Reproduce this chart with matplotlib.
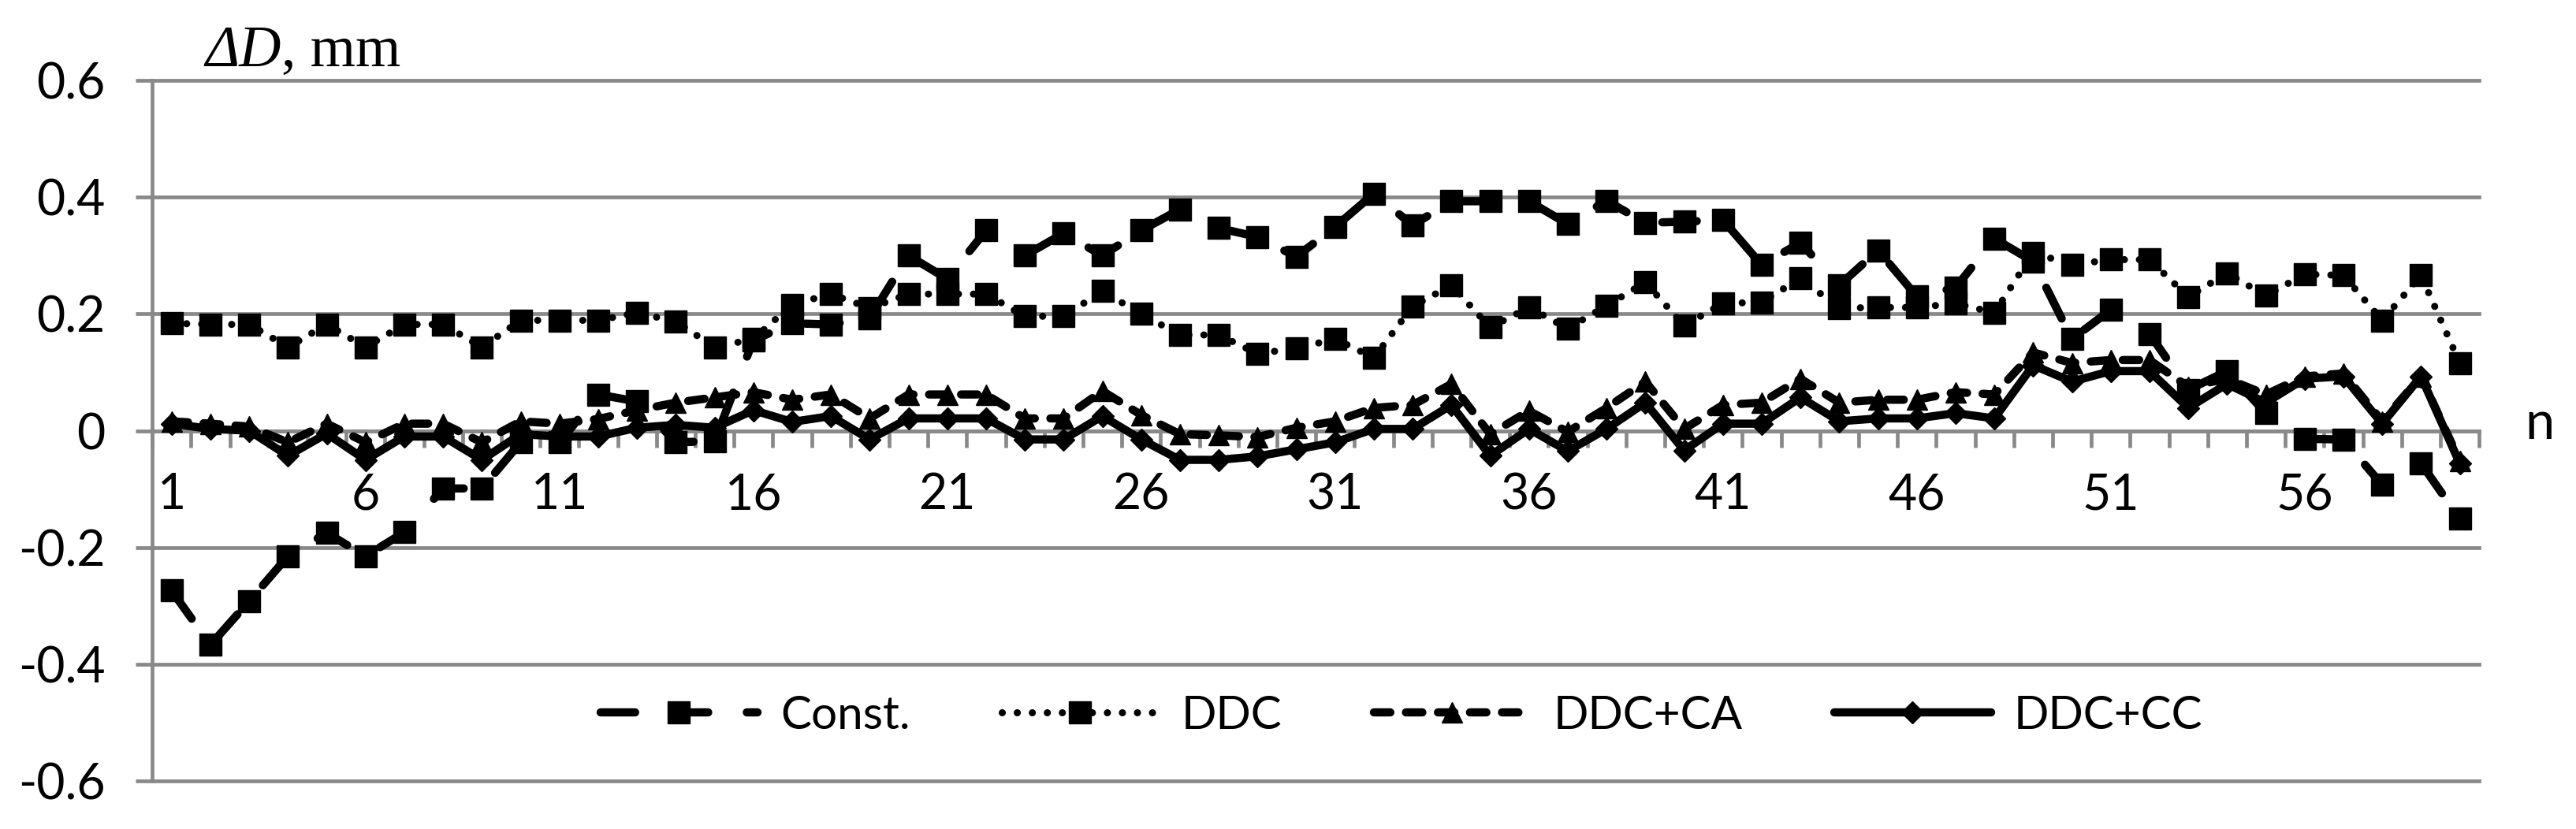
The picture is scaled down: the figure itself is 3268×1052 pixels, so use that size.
import numpy as np
import matplotlib
matplotlib.use('Agg')
import matplotlib.pyplot as plt
import matplotlib.transforms as mtransforms

# measurement number n = 1..60
n = np.arange(1, 61)

const = [-0.274, -0.367, -0.292, -0.215, -0.175, -0.215, -0.174, -0.099, -0.099, -0.020,
         -0.020, 0.062, 0.050, -0.020, -0.018, 0.155, 0.184, 0.182, 0.193, 0.300,
         0.260, 0.343, 0.300, 0.338, 0.300, 0.343, 0.379, 0.347, 0.332, 0.298,
         0.349, 0.406, 0.352, 0.393, 0.393, 0.393, 0.354, 0.394, 0.356, 0.358,
         0.361, 0.284, 0.322, 0.249, 0.309, 0.230, 0.245, 0.329, 0.290, 0.157,
         0.207, 0.166, 0.070, 0.102, 0.030, -0.014, -0.015, -0.093, -0.056, -0.151]

ddc = [0.184, 0.182, 0.182, 0.143, 0.182, 0.143, 0.182, 0.182, 0.143, 0.189,
       0.189, 0.189, 0.202, 0.187, 0.143, 0.157, 0.216, 0.234, 0.210, 0.234,
       0.234, 0.234, 0.196, 0.196, 0.239, 0.200, 0.164, 0.164, 0.132, 0.141,
       0.157, 0.125, 0.213, 0.249, 0.177, 0.211, 0.175, 0.214, 0.254, 0.180,
       0.218, 0.220, 0.261, 0.210, 0.211, 0.211, 0.218, 0.202, 0.305, 0.284,
       0.293, 0.293, 0.229, 0.270, 0.231, 0.268, 0.266, 0.189, 0.266, 0.116]

ddc_ca = [0.016, 0.012, 0.007, -0.020, 0.012, -0.020, 0.012, 0.012, -0.020, 0.016,
          0.012, 0.020, 0.035, 0.048, 0.057, 0.066, 0.053, 0.062, 0.021, 0.062,
          0.062, 0.062, 0.021, 0.021, 0.068, 0.027, -0.006, -0.008, -0.011, 0.005,
          0.016, 0.039, 0.044, 0.080, -0.006, 0.034, -0.002, 0.039, 0.084, 0.003,
          0.044, 0.048, 0.089, 0.048, 0.053, 0.053, 0.066, 0.062, 0.134, 0.116,
          0.121, 0.121, 0.075, 0.089, 0.062, 0.093, 0.098, 0.016, 0.093, -0.052]

ddc_cc = [0.012, 0.003, 0.000, -0.043, -0.005, -0.050, -0.010, -0.010, -0.050, -0.006,
          -0.010, -0.010, 0.005, 0.010, 0.005, 0.035, 0.015, 0.025, -0.015, 0.021,
          0.021, 0.021, -0.015, -0.015, 0.025, -0.015, -0.050, -0.050, -0.044, -0.032,
          -0.020, 0.003, 0.003, 0.044, -0.043, 0.003, -0.035, 0.003, 0.048, -0.034,
          0.012, 0.012, 0.057, 0.016, 0.021, 0.021, 0.030, 0.021, 0.112, 0.084,
          0.102, 0.102, 0.039, 0.080, 0.048, 0.089, 0.093, 0.012, 0.093, -0.056]

labels = ['Const.', 'DDC', 'DDC+CA', 'DDC+CC']
xticks = np.arange(1, 61, 5)
yticks = [-0.6, -0.4, -0.2, 0, 0.2, 0.4, 0.6]
ylabels = ['-0.6', '-0.4', '-0.2', '0', '0.2', '0.4', '0.6']

grey = '#898989'
plt.rcParams['font.family'] = ['Lato', 'DejaVu Sans']

fig = plt.figure(figsize=(32.68, 10.52), dpi=100)
ax = fig.add_axes([0.0591, 0.058, 0.9033, 0.845])

ax.plot(n, const, color='k', lw=7.5, dashes=(4.2, 4.7), dash_capstyle='round',
        marker='s', ms=20, label=labels[0], zorder=3)
ax.plot(n, ddc, color='k', lw=6.5, dashes=(0.01, 2.1), dash_capstyle='round',
        marker='s', ms=20, label=labels[1], zorder=3)
ax.plot(n, ddc_ca, color='k', lw=7.5, dashes=(2.0, 1.9), dash_capstyle='round',
        marker='^', ms=19, label=labels[2], zorder=4)
ax.plot(n, ddc_cc, color='k', lw=7.5, solid_capstyle='round',
        marker='D', ms=14, label=labels[3], zorder=5)

ax.set_xlim(0.5, 60.5)
ax.set_ylim(-0.6, 0.6)

ax.set_yticks(yticks)
ax.set_yticklabels(ylabels)
ax.yaxis.grid(True, color=grey, lw=3.4)
for gl in ax.get_ygridlines():
    gl.set_clip_on(False)
ax.set_axisbelow(True)
ax.tick_params(axis='y', length=15, width=3.4, color=grey, pad=28, labelsize=45)

ax.spines['top'].set_visible(False)
ax.spines['right'].set_visible(False)
ax.spines['left'].set_color(grey)
ax.spines['left'].set_linewidth(3.4)
ax.spines['bottom'].set_position(('data', 0))
ax.spines['bottom'].set_color(grey)
ax.spines['bottom'].set_linewidth(3.4)

ax.set_xticks(xticks)
ax.set_xticklabels([str(v) for v in xticks])
ax.set_xticks(np.arange(0.5, 61, 1), minor=True)
ax.tick_params(axis='x', which='major', length=0, pad=38, labelsize=45)
ax.tick_params(axis='x', which='minor', length=15, width=3.4, color=grey)

trans = mtransforms.blended_transform_factory(ax.transAxes, ax.transData)
ax.text(1.026, 0.012, 'n', transform=trans, ha='center', va='center', fontsize=48)

t1 = fig.text(0.0796, 0.92, 'ΔD', family='Liberation Serif', style='italic',
              fontsize=53, va='baseline', ha='left')
ax.annotate(', mm', xy=(1, 0), xycoords=t1, ha='left', va='bottom',
            family='Liberation Serif', fontsize=53, annotation_clip=False)

ax.legend(loc='center', bbox_to_anchor=(0.537, 0.093), ncol=4, frameon=False,
          fontsize=42, handlelength=3.4, handletextpad=0.5, columnspacing=2.0,
          numpoints=1)

fig.savefig('out.png', dpi=100)
